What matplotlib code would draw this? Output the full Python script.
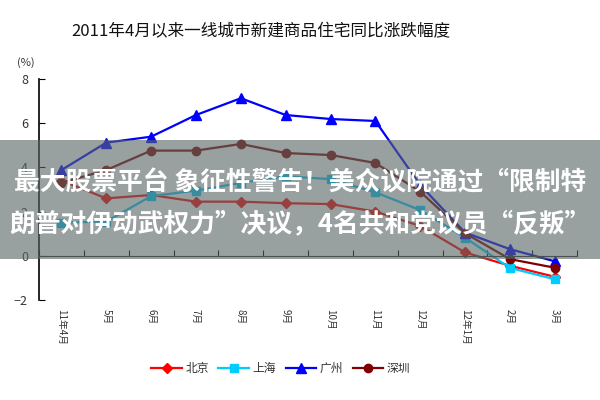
import matplotlib
matplotlib.use('Agg')
import matplotlib.pyplot as plt
from matplotlib.patches import Rectangle

plt.rcParams['font.family'] = ['Noto Sans CJK SC', 'DejaVu Sans']

# data (year-on-year change, %)
months = ['11年4月', '5月', '6月', '7月', '8月', '9月', '10月', '11月', '12月', '12年1月', '2月', '3月']
beijing = [3.4, 2.6, 2.75, 2.45, 2.45, 2.38, 2.34, 2.0, 1.35, 0.15, -0.45, -0.95]
shanghai = [1.5, 1.55, 2.7, 2.95, 3.3, 3.6, 3.47, 2.87, 2.07, 0.82, -0.55, -1.06]
guangzhou = [3.88, 5.12, 5.39, 6.37, 7.13, 6.37, 6.19, 6.1, 3.2, 1.05, 0.3, -0.25]
shenzhen = [3.3, 3.88, 4.76, 4.76, 5.06, 4.65, 4.56, 4.2, 2.9, 1.02, -0.15, -0.54]

title = '2011年4月以来一线城市新建商品住宅同比涨跌幅度'
banner = ['最大股票平台 象征性警告！美众议院通过“限制特',
          '朗普对伊动武权力”决议，4名共和党议员“反叛”']

fig = plt.figure(figsize=(6, 4), dpi=100)
ax = fig.add_axes([0.065, 0.25, 0.897, 0.5525])

x = range(len(months))
ax.plot(x, beijing, color='#ff0000', marker='D', markersize=5, lw=1.6, label='北京')
ax.plot(x, shanghai, color='#00ccff', marker='s', markersize=5.5, lw=1.6, label='上海')
ax.plot(x, guangzhou, color='#0000ff', marker='^', markersize=6.5, lw=1.6, label='广州')
ax.plot(x, shenzhen, color='#7f0000', marker='o', markersize=6, lw=1.6, label='深圳')

ax.set_xlim(-0.5, len(months) - 0.5)
ax.set_ylim(-2, 8)
ax.set_yticks([-2, 0, 2, 4, 6, 8])
ax.set_xticks([i - 0.5 for i in range(len(months) + 1)])
ax.set_xticklabels([])
ax.tick_params(axis='y', direction='in', length=4, labelsize=9, labelcolor='#333333', pad=8)
ax.tick_params(axis='x', direction='in', length=4)

for s in ['top', 'right']:
    ax.spines[s].set_visible(False)
ax.spines['bottom'].set_position(('data', 0))
ax.spines['bottom'].set_color('#333333')
ax.spines['left'].set_linewidth(1.2)

for i, m in enumerate(months):
    ax.text(i, -2.4, m, rotation=-90, ha='center', va='top', fontsize=7, color='#333333')

fig.text(0.028, 1 - 63 / 400, '(%)', fontsize=8, color='#333333', ha='left', va='center')

fig.text(0.435, 0.92, title, ha='center', va='center', fontsize=12, color='#111111')

ax.legend(loc='center', bbox_to_anchor=(0.468, 0.078), bbox_transform=fig.transFigure,
          ncol=4, frameon=False, fontsize=8.5, handlelength=2.6, handletextpad=0.3,
          columnspacing=0.8, labelcolor='#333333')

# grey banner overlay with headline text
fig.add_artist(Rectangle((0, 1 - 259 / 400), 1, 119 / 400, transform=fig.transFigure,
                         facecolor=(0.35, 0.40, 0.40), alpha=0.62, edgecolor='none', zorder=10))
fig.text(0.5, 1 - 183 / 400, banner[0], ha='center', va='center', fontsize=18.5,
         fontweight='bold', color='white', zorder=11)
fig.text(0.5, 1 - 225 / 400, banner[1], ha='center', va='center', fontsize=18.5,
         fontweight='bold', color='white', zorder=11)

fig.savefig('out.png', dpi=100)
